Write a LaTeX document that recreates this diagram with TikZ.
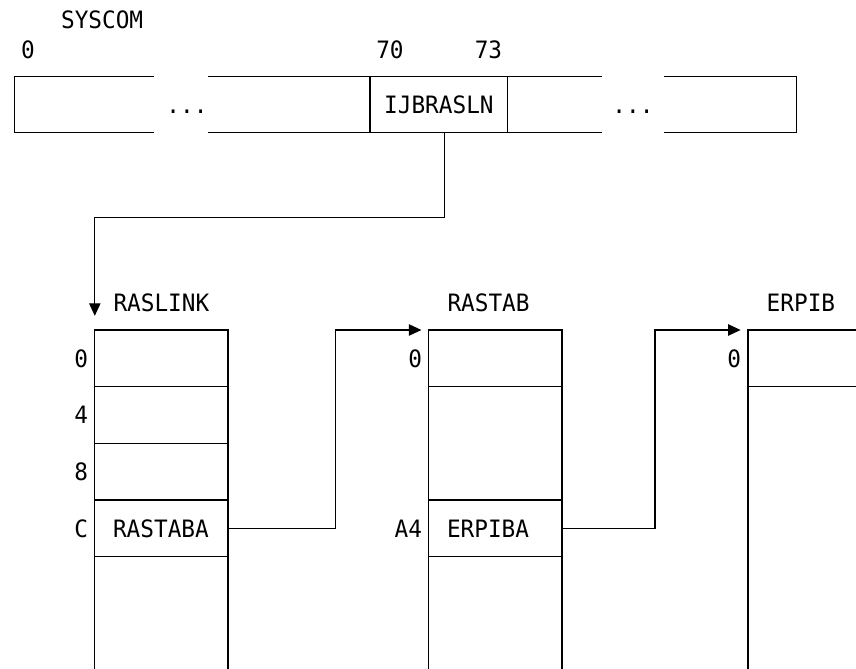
\documentclass[tikz,border=0pt]{standalone}
\usepackage{fontspec}
\setmonofont[FakeStretch=0.95]{DejaVu Sans Mono}
\usepackage{tikz}
\usetikzlibrary{arrows.meta, positioning}
\tikzstyle{slot} = [rectangle, draw=black, minimum height=1cm, inner sep=0pt, outer sep=0pt, text height=8.75pt, text depth=0pt]
\tikzstyle{field} = [slot, minimum width=2.35cm, inner xsep=0.32cm, text width=1.706cm, align=left]
\tikzstyle{tag} = [inner sep=0pt, text height=8.75pt, text depth=0pt]
\tikzstyle{ptr} = [-{Triangle[length=0.22cm,width=0.2cm]}]

\begin{document}
\begin{tikzpicture}[node distance=0pt, label distance=0.11cm, line width=0.6pt, font=\ttfamily\fontsize{12}{14}\selectfont]
    \useasboundingbox (0,0) rectangle (15.097,-11.799);

    % SYSCOM record
    \node (ijb) [slot, minimum width=2.43cm] at (7.741,-1.843) {IJBRASLN};
    \node (dotsL) [tag] at (3.298,-1.843) {...};
    \node (dotsR) [tag] at (11.164,-1.843) {...};
    \node (syscom) [tag, anchor=base west] at (1.067,-0.499) {SYSCOM};
    \node (off0) [tag, anchor=base west] at (0.362,-1.028) {0};
    \node (off70) [tag, anchor=base west] at ([xshift=0.1cm,yshift=0.32cm]ijb.north west) {70};
    \node (off73) [tag, anchor=base east] at ([xshift=-0.09cm,yshift=0.32cm]ijb.north east) {73};

    \draw (ijb.north west) -- ++(-2.862,0) (ijb.south west) -- ++(-2.862,0);
    \draw (ijb.north east) -- ++(1.663,0) (ijb.south east) -- ++(1.663,0);
    \draw (2.716,-1.343) -| (0.252,-2.343) -- (2.716,-2.343);
    \draw (11.711,-1.343) -| (14.051,-2.343) -- (11.711,-2.343);

    % RASLINK
    \node (rl0) [field, label={[tag]left:0}] at (2.847,-6.320) {};
    \node (rl1) [field, below=of rl0, label={[tag]left:4}] {};
    \node (rl2) [field, below=of rl1, label={[tag]left:8}] {};
    \node (rl3) [field, below=of rl2, label={[tag]left:C}] {RASTABA};
    \node (rlname) [tag, anchor=base west] at ([xshift=0.32cm,yshift=0.32cm]rl0.north west) {RASLINK};

    % RASTAB
    \node (rt0) [field, right=3.54cm of rl0, label={[tag]left:0}] {};
    \node (rt1) [field, below=of rt0, minimum height=2cm] {};
    \node (rt2) [field, below=of rt1, label={[tag]left:A4}] {ERPIBA};
    \node (rtname) [tag, anchor=base west] at ([xshift=0.32cm,yshift=0.32cm]rt0.north west) {RASTAB};

    % ERPIB
    \node (ep0) [field, right=3.28cm of rt0, label={[tag]left:0}] {};
    \node (epname) [tag, anchor=base west] at ([xshift=0.32cm,yshift=0.32cm]ep0.north west) {ERPIB};

    % open ends
    \draw (rl3.south west) -- ++(0,-2) (rl3.south east) -- ++(0,-2);
    \draw (rt2.south west) -- ++(0,-2) (rt2.south east) -- ++(0,-2);
    \draw (ep0.south west) -- ++(0,-5) (ep0.south east) -- ++(0,-5);

    % Arrows
    \draw [ptr] ([xshift=0.1cm]ijb.south) -- ++(0,-1.5) -| ([yshift=0.25cm]rl0.north west);
    \draw [ptr] (rl3.east) -- ++(1.89,0) |- ([xshift=-0.13cm]rt0.north west);
    \draw [ptr] (rt2.east) -- ++(1.64,0) |- ([xshift=-0.13cm]ep0.north west);
\end{tikzpicture}
\end{document}
